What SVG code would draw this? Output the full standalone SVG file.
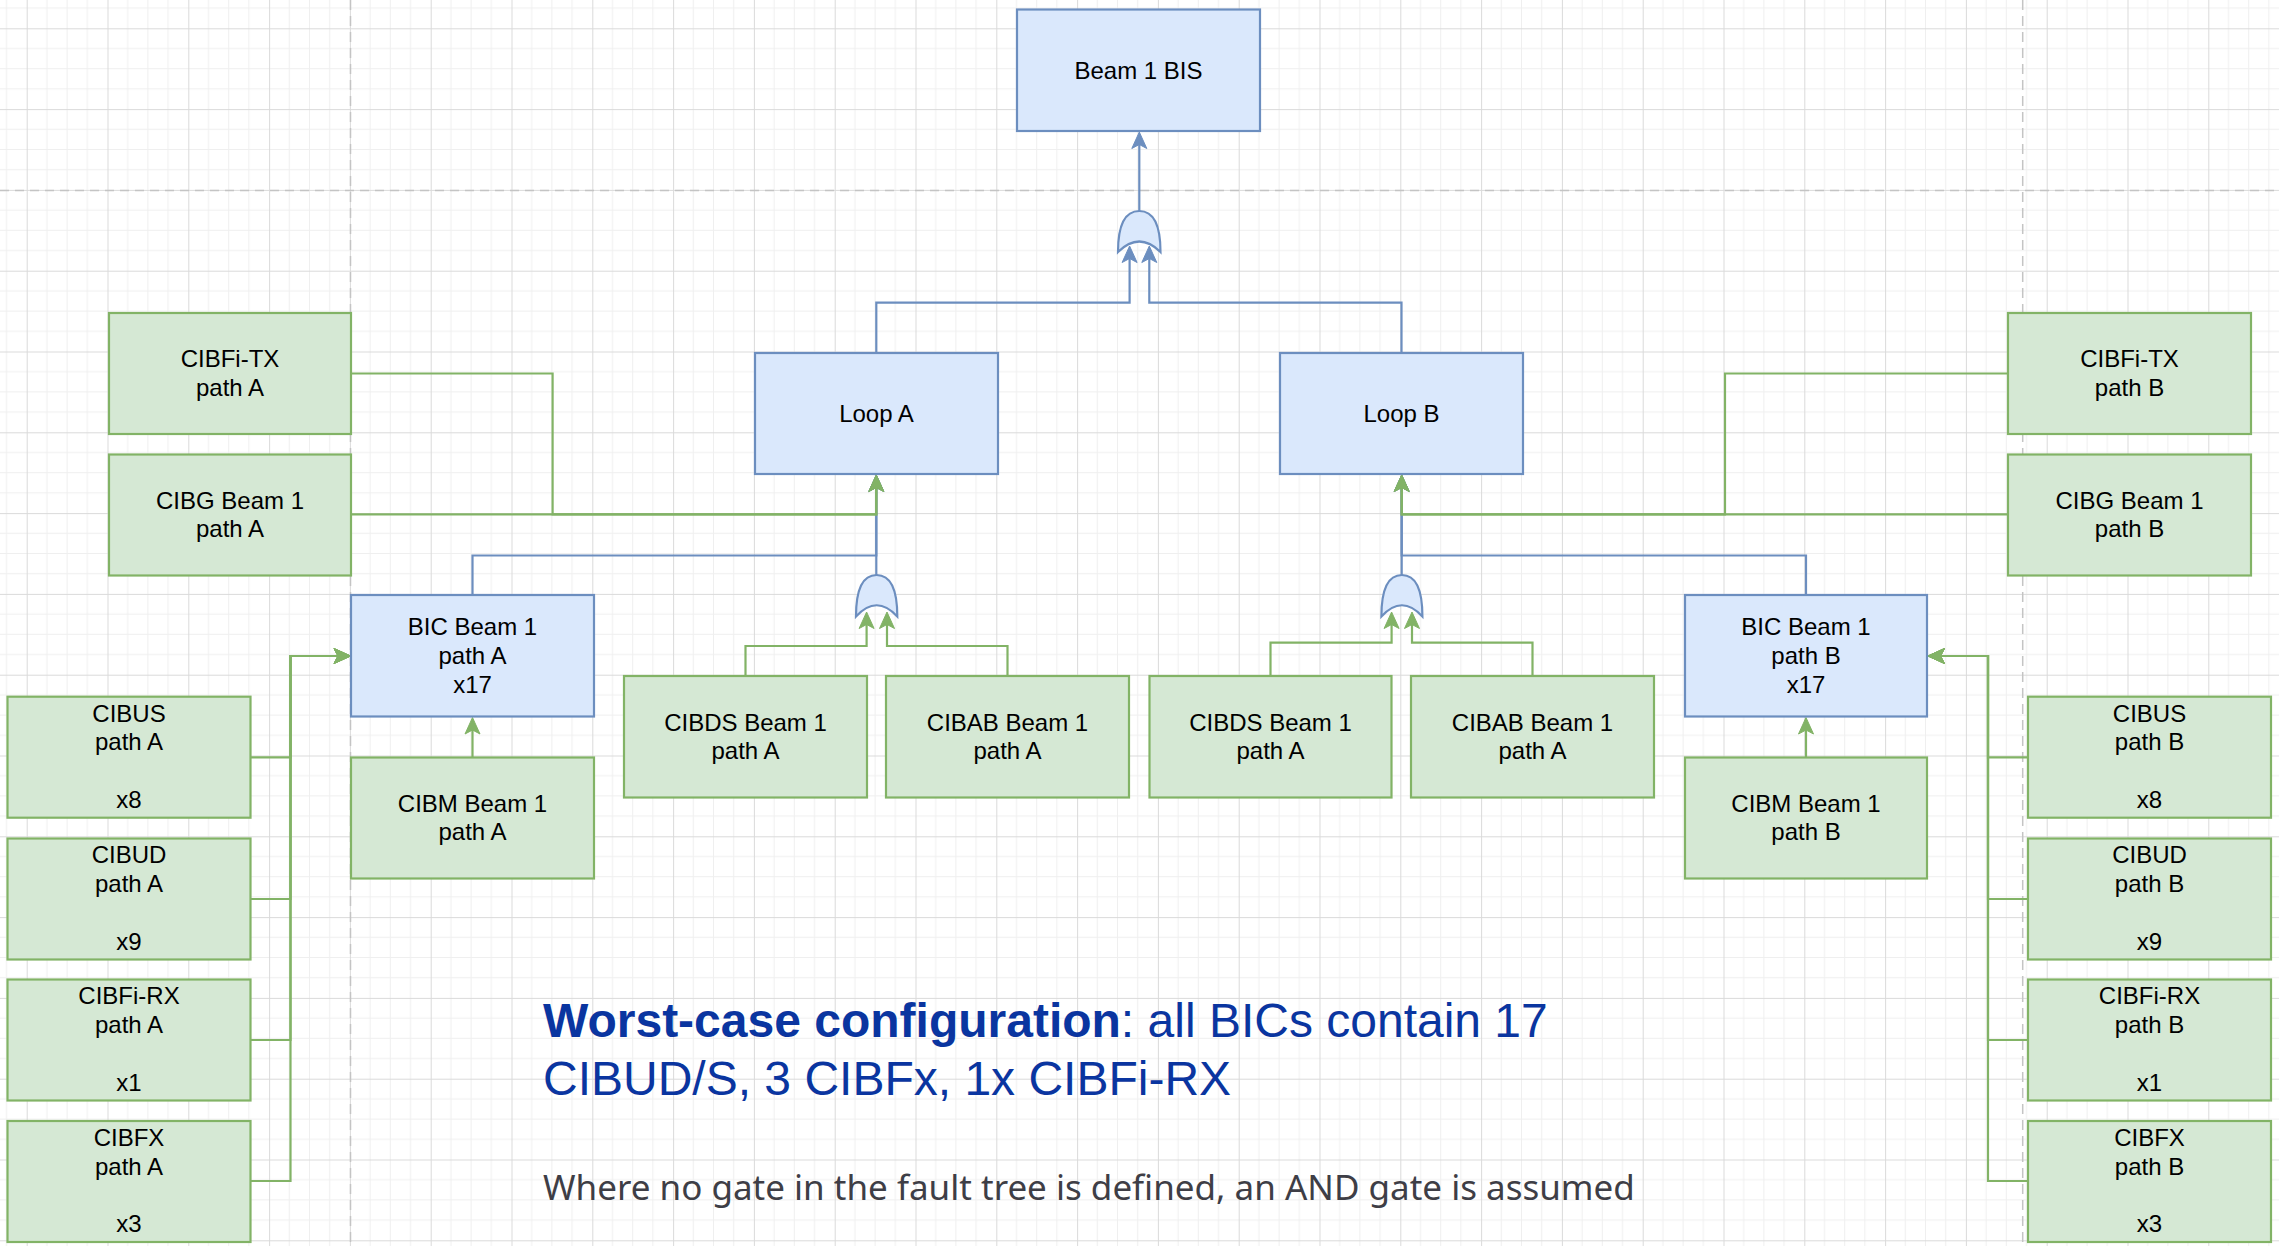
<svg xmlns="http://www.w3.org/2000/svg" width="2279" height="1246" viewBox="0 0 2279 1246">
  <defs>
    <style>
      .bg { fill: #ffffff; }
      .page { stroke: #c4c4c4; stroke-width: 1.5; fill: none; }
      .blue { fill: #dae8fc; stroke: #6c8ebf; stroke-width: 2.2; }
      .green { fill: #d5e8d4; stroke: #82b366; stroke-width: 2.2; }
      .lbl { font-family: "Liberation Sans", Arial, Helvetica, sans-serif; font-size: 24px; fill: #000000; text-anchor: middle; }
      .e-blue { fill: none; stroke: #6c8ebf; stroke-width: 2.2; }
      .e-green { fill: none; stroke: #82b366; stroke-width: 2.2; }
      .note { font-family: "Liberation Sans", Arial, Helvetica, sans-serif; font-size: 48px; fill: #0a35a0; }
      .foot { font-family: "Noto Sans", "Open Sans", sans-serif; font-size: 35px; fill: #3e3e46; }
    </style>
    <!-- drawing-canvas grid: minor every 20.2, major every 80.8 -->
    <pattern id="grid" patternUnits="userSpaceOnUse" x="26.7" y="28.3" width="80.8" height="80.8">
      <path d="M20.2,0 V80.8 M40.4,0 V80.8 M60.6,0 V80.8 M0,20.2 H80.8 M0,40.4 H80.8 M0,60.6 H80.8" stroke="#efefef" stroke-width="1" fill="none"/>
      <path d="M0.5,0 V80.8 M0,0.5 H80.8" stroke="#dadada" stroke-width="1" fill="none"/>
    </pattern>
    <marker id="arr-blue" viewBox="-18 -9 22 18" markerWidth="22" markerHeight="18" refX="-3" refY="0" orient="auto" markerUnits="userSpaceOnUse">
      <path d="M0,0 L-16.5,-7.5 L-12.5,0 L-16.5,7.5 Z" fill="#6c8ebf" stroke="#6c8ebf" stroke-width="1" stroke-linejoin="miter"/>
    </marker>
    <marker id="arr-green" viewBox="-18 -9 22 18" markerWidth="22" markerHeight="18" refX="-3" refY="0" orient="auto" markerUnits="userSpaceOnUse">
      <path d="M0,0 L-16.5,-7.5 L-12.5,0 L-16.5,7.5 Z" fill="#82b366" stroke="#82b366" stroke-width="1" stroke-linejoin="miter"/>
    </marker>
  </defs>

  <!-- canvas -->
  <rect class="bg" x="0" y="0" width="2279" height="1246"/>
  <rect x="0" y="0" width="2279" height="1246" fill="url(#grid)"/>
  <!-- page break lines -->
  <g id="page-breaks">
    <path class="page" d="M350.5,0 V1246" stroke-dasharray="10 6"/>
    <path class="page" d="M2022.7,0 V1246" stroke-dasharray="10 6"/>
    <path class="page" d="M0,190.5 H2279" stroke-dasharray="9 6"/>
  </g>

  <!-- connectors -->
  <g id="connectors">
    <!-- blue: gates and BICs up into the loops / BIS -->
    <path class="e-blue" d="M876.3,353 V302.7 H1129.6 V249" marker-end="url(#arr-blue)"/>
    <path class="e-blue" d="M1401.5,353 V302.7 H1149.3 V249" marker-end="url(#arr-blue)"/>
    <path class="e-blue" d="M1139.3,211 V135" marker-end="url(#arr-blue)"/>
    <path class="e-blue" d="M876.3,575 V478" marker-end="url(#arr-blue)"/>
    <path class="e-blue" d="M472.5,595 V555.5 H876.3 V478" marker-end="url(#arr-blue)"/>
    <path class="e-blue" d="M1401.7,575 V478" marker-end="url(#arr-blue)"/>
    <path class="e-blue" d="M1806,595 V555.5 H1401.7 V478" marker-end="url(#arr-blue)"/>

    <!-- green: basic events -->
    <path class="e-green" d="M351,373.5 H552.6 V514.3 H876.3 V478" marker-end="url(#arr-green)"/>
    <path class="e-green" d="M351,514.3 H876.3 V478" marker-end="url(#arr-green)"/>
    <path class="e-green" d="M2008,373.5 H1725 V514.3 H1401.7 V478" marker-end="url(#arr-green)"/>
    <path class="e-green" d="M2008,514.3 H1401.7 V478" marker-end="url(#arr-green)"/>

    <path class="e-green" d="M745.5,676 V646 H866.6 V615" marker-end="url(#arr-green)"/>
    <path class="e-green" d="M1007.5,676 V646 H887 V615" marker-end="url(#arr-green)"/>
    <path class="e-green" d="M1270.5,676 V642.7 H1391.6 V615" marker-end="url(#arr-green)"/>
    <path class="e-green" d="M1532.5,676 V642.7 H1412 V615" marker-end="url(#arr-green)"/>

    <path class="e-green" d="M472.5,757.5 V720.5" marker-end="url(#arr-green)"/>
    <path class="e-green" d="M1806,757.5 V720.5" marker-end="url(#arr-green)"/>

    <path class="e-green" d="M250.5,757.3 H290.5 V656 H347.5" marker-end="url(#arr-green)"/>
    <path class="e-green" d="M250.5,899 H290.5 V656 H347.5" marker-end="url(#arr-green)"/>
    <path class="e-green" d="M250.5,1040 H290.5 V656 H347.5" marker-end="url(#arr-green)"/>
    <path class="e-green" d="M250.5,1181 H290.5 V656 H347.5" marker-end="url(#arr-green)"/>

    <path class="e-green" d="M2028,757.3 H1988 V656 H1931" marker-end="url(#arr-green)"/>
    <path class="e-green" d="M2028,899 H1988 V656 H1931" marker-end="url(#arr-green)"/>
    <path class="e-green" d="M2028,1040 H1988 V656 H1931" marker-end="url(#arr-green)"/>
    <path class="e-green" d="M2028,1181 H1988 V656 H1931" marker-end="url(#arr-green)"/>
  </g>

  <!-- OR gates -->
  <g id="gate-or-top">
    <path class="blue" d="M1118,252 Q1118,211 1139.3,211 Q1160.5,211 1160.5,252 Q1139.3,231 1118,252 Z"/>
  </g>
  <g id="gate-or-a">
    <path class="blue" d="M856,616.5 Q856,575 876.6,575 Q897.3,575 897.3,616.5 Q876.6,594 856,616.5 Z"/>
  </g>
  <g id="gate-or-b">
    <path class="blue" d="M1381.4,616.5 Q1381.4,575 1401.9,575 Q1422.4,575 1422.4,616.5 Q1401.9,594 1381.4,616.5 Z"/>
  </g>

  <!-- top event and intermediate events -->
  <g id="beam1-bis">
    <rect class="blue" x="1017" y="9.5" width="243" height="121.5"/>
    <text class="lbl" x="1138.5" y="78.5">Beam 1 BIS</text>
  </g>
  <g id="loop-a">
    <rect class="blue" x="755" y="353" width="243" height="121"/>
    <text class="lbl" x="876.5" y="421.8">Loop A</text>
  </g>
  <g id="loop-b">
    <rect class="blue" x="1280" y="353" width="243" height="121"/>
    <text class="lbl" x="1401.5" y="421.8">Loop B</text>
  </g>
  <g id="bic-a">
    <rect class="blue" x="351" y="595" width="243" height="121.5"/>
    <text class="lbl" x="472.5" y="635"><tspan x="472.5">BIC Beam 1</tspan><tspan x="472.5" dy="28.8">path A</tspan><tspan x="472.5" dy="28.8">x17</tspan></text>
  </g>
  <g id="bic-b">
    <rect class="blue" x="1685" y="595" width="242" height="121.5"/>
    <text class="lbl" x="1806" y="635"><tspan x="1806">BIC Beam 1</tspan><tspan x="1806" dy="28.8">path B</tspan><tspan x="1806" dy="28.8">x17</tspan></text>
  </g>

  <!-- basic events, path A -->
  <g id="cibfi-tx-a">
    <rect class="green" x="109" y="313" width="242" height="121"/>
    <text class="lbl" x="230" y="367"><tspan x="230">CIBFi-TX</tspan><tspan x="230" dy="28.8">path A</tspan></text>
  </g>
  <g id="cibg-a">
    <rect class="green" x="109" y="454.5" width="242" height="121"/>
    <text class="lbl" x="230" y="508.5"><tspan x="230">CIBG Beam 1</tspan><tspan x="230" dy="28.8">path A</tspan></text>
  </g>
  <g id="cibm-a">
    <rect class="green" x="351" y="757.5" width="243" height="121"/>
    <text class="lbl" x="472.5" y="811.5"><tspan x="472.5">CIBM Beam 1</tspan><tspan x="472.5" dy="28.8">path A</tspan></text>
  </g>
  <g id="cibds-a-1">
    <rect class="green" x="624" y="676" width="243" height="121.5"/>
    <text class="lbl" x="745.5" y="730.5"><tspan x="745.5">CIBDS Beam 1</tspan><tspan x="745.5" dy="28.8">path A</tspan></text>
  </g>
  <g id="cibab-a-1">
    <rect class="green" x="886" y="676" width="243" height="121.5"/>
    <text class="lbl" x="1007.5" y="730.5"><tspan x="1007.5">CIBAB Beam 1</tspan><tspan x="1007.5" dy="28.8">path A</tspan></text>
  </g>
  <g id="cibds-a-2">
    <rect class="green" x="1149.5" y="676" width="242" height="121.5"/>
    <text class="lbl" x="1270.5" y="730.5"><tspan x="1270.5">CIBDS Beam 1</tspan><tspan x="1270.5" dy="28.8">path A</tspan></text>
  </g>
  <g id="cibab-a-2">
    <rect class="green" x="1411" y="676" width="243" height="121.5"/>
    <text class="lbl" x="1532.5" y="730.5"><tspan x="1532.5">CIBAB Beam 1</tspan><tspan x="1532.5" dy="28.8">path A</tspan></text>
  </g>
  <g id="cibus-a">
    <rect class="green" x="7.5" y="696.7" width="243" height="121"/>
    <text class="lbl" x="129" y="721.5"><tspan x="129">CIBUS</tspan><tspan x="129" dy="28.8">path A</tspan><tspan x="129" dy="57.6">x8</tspan></text>
  </g>
  <g id="cibud-a">
    <rect class="green" x="7.5" y="838.5" width="243" height="121"/>
    <text class="lbl" x="129" y="863.3"><tspan x="129">CIBUD</tspan><tspan x="129" dy="28.8">path A</tspan><tspan x="129" dy="57.6">x9</tspan></text>
  </g>
  <g id="cibfi-rx-a">
    <rect class="green" x="7.5" y="979.5" width="243" height="121"/>
    <text class="lbl" x="129" y="1004.3"><tspan x="129">CIBFi-RX</tspan><tspan x="129" dy="28.8">path A</tspan><tspan x="129" dy="57.6">x1</tspan></text>
  </g>
  <g id="cibfx-a">
    <rect class="green" x="7.5" y="1121" width="243" height="121"/>
    <text class="lbl" x="129" y="1145.8"><tspan x="129">CIBFX</tspan><tspan x="129" dy="28.8">path A</tspan><tspan x="129" dy="57.6">x3</tspan></text>
  </g>

  <!-- basic events, path B -->
  <g id="cibfi-tx-b">
    <rect class="green" x="2008" y="313" width="243" height="121"/>
    <text class="lbl" x="2129.5" y="367"><tspan x="2129.5">CIBFi-TX</tspan><tspan x="2129.5" dy="28.8">path B</tspan></text>
  </g>
  <g id="cibg-b">
    <rect class="green" x="2008" y="454.5" width="243" height="121"/>
    <text class="lbl" x="2129.5" y="508.5"><tspan x="2129.5">CIBG Beam 1</tspan><tspan x="2129.5" dy="28.8">path B</tspan></text>
  </g>
  <g id="cibm-b">
    <rect class="green" x="1685" y="757.5" width="242" height="121"/>
    <text class="lbl" x="1806" y="811.5"><tspan x="1806">CIBM Beam 1</tspan><tspan x="1806" dy="28.8">path B</tspan></text>
  </g>
  <g id="cibus-b">
    <rect class="green" x="2028" y="696.7" width="243" height="121"/>
    <text class="lbl" x="2149.5" y="721.5"><tspan x="2149.5">CIBUS</tspan><tspan x="2149.5" dy="28.8">path B</tspan><tspan x="2149.5" dy="57.6">x8</tspan></text>
  </g>
  <g id="cibud-b">
    <rect class="green" x="2028" y="838.5" width="243" height="121"/>
    <text class="lbl" x="2149.5" y="863.3"><tspan x="2149.5">CIBUD</tspan><tspan x="2149.5" dy="28.8">path B</tspan><tspan x="2149.5" dy="57.6">x9</tspan></text>
  </g>
  <g id="cibfi-rx-b">
    <rect class="green" x="2028" y="979.5" width="243" height="121"/>
    <text class="lbl" x="2149.5" y="1004.3"><tspan x="2149.5">CIBFi-RX</tspan><tspan x="2149.5" dy="28.8">path B</tspan><tspan x="2149.5" dy="57.6">x1</tspan></text>
  </g>
  <g id="cibfx-b">
    <rect class="green" x="2028" y="1121" width="243" height="121"/>
    <text class="lbl" x="2149.5" y="1145.8"><tspan x="2149.5">CIBFX</tspan><tspan x="2149.5" dy="28.8">path B</tspan><tspan x="2149.5" dy="57.6">x3</tspan></text>
  </g>

  <!-- notes -->
  <g id="notes">
    <text class="note" x="543" y="1037"><tspan font-weight="bold">Worst-case configuration</tspan>: all BICs contain 17</text>
    <text class="note" x="543" y="1095">CIBUD/S, 3 CIBFx, 1x CIBFi-RX</text>
    <text class="foot" x="543" y="1200">Where no gate in the fault tree is defined, an AND gate is assumed</text>
  </g>
</svg>
